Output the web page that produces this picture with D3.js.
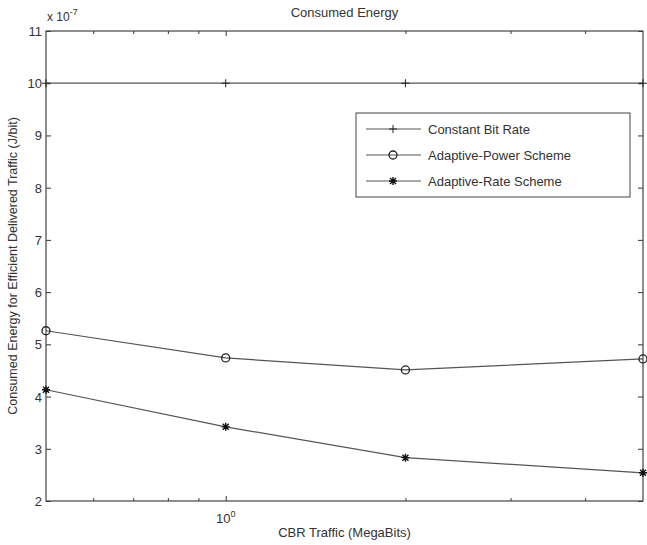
<!DOCTYPE html>
<html lang="en">
<head>
    <meta charset="UTF-8">
    <title>Consumed Energy</title>
    <script src="https://d3js.org/d3.v7.min.js"></script>
    <style>
        body { margin: 0; background: #fff; }
        svg { display: block; font-family: "Liberation Sans", Arial, sans-serif; }
        text { fill: #333; }
    </style>
</head>
<body>
<svg id="chart" width="647" height="545"></svg>
<script>
    // data (y values in units of 1e-7 J/bit)
    const traffic = [0.5, 1, 2, 5];
    const constantBitRate = [10, 10, 10, 10];
    const adaptivePower = [5.26, 4.74, 4.51, 4.72];
    const adaptiveRate = [4.13, 3.42, 2.83, 2.54];
    const seriesNames = ["Constant Bit Rate", "Adaptive-Power Scheme", "Adaptive-Rate Scheme"];
    const yTicks = [2, 3, 4, 5, 6, 7, 8, 9, 10, 11];
    const xMinorTicks = [0.6, 0.7, 0.8, 0.9, 2, 3, 4];

    const margin = { top: 31, right: 4, bottom: 44, left: 46 };
    const width = 647, height = 545;
    const svg = d3.select("#chart");

    const x = d3.scaleLog().domain([0.5, 5]).range([margin.left, width - margin.right]);
    const y = d3.scaleLinear().domain([2, 11]).range([height - margin.bottom, margin.top]);

    const axisColor = "#333";
    const g = svg.append("g");

    // y ticks (inward, both sides)
    g.append("g")
        .attr("transform", `translate(${margin.left},0)`)
        .call(d3.axisRight(y).tickValues(yTicks).tickSize(5).tickFormat(""))
        .call(s => s.select(".domain").remove());
    g.append("g")
        .attr("transform", `translate(${width - margin.right},0)`)
        .call(d3.axisLeft(y).tickValues(yTicks).tickSize(5).tickFormat(""))
        .call(s => s.select(".domain").remove());

    // y labels
    svg.append("g").selectAll("text")
        .data(yTicks)
        .join("text")
        .attr("x", margin.left - 4)
        .attr("y", d => y(d) + 5)
        .attr("text-anchor", "end")
        .style("font-size", "13px")
        .text(d => d);

    // x ticks: major + minor, bottom and top
    const xb = g.append("g").attr("transform", `translate(0,${height - margin.bottom})`);
    const xt = g.append("g").attr("transform", `translate(0,${margin.top})`);
    xb.call(d3.axisTop(x).tickValues([1]).tickSize(5).tickFormat("")).call(s => s.select(".domain").remove());
    xt.call(d3.axisBottom(x).tickValues([1]).tickSize(5).tickFormat("")).call(s => s.select(".domain").remove());
    xb.append("g").call(d3.axisTop(x).tickValues(xMinorTicks).tickSize(3).tickFormat("")).call(s => s.select(".domain").remove());
    xt.append("g").call(d3.axisBottom(x).tickValues(xMinorTicks).tickSize(3).tickFormat("")).call(s => s.select(".domain").remove());
    g.selectAll("line").attr("stroke", axisColor);

    // 10^0 label
    const xl = svg.append("text")
        .attr("x", x(1))
        .attr("y", height - margin.bottom + 22)
        .attr("text-anchor", "middle")
        .style("font-size", "13px");
    xl.append("tspan").text("10");
    xl.append("tspan").attr("dy", -6).style("font-size", "9px").text("0");

    // axes box
    svg.append("rect")
        .attr("x", margin.left)
        .attr("y", margin.top)
        .attr("width", width - margin.right - margin.left)
        .attr("height", height - margin.bottom - margin.top)
        .attr("fill", "none")
        .attr("stroke", "#444")
        .attr("stroke-width", 1.2);

    // exponent label
    const ex = svg.append("text")
        .attr("x", margin.left + 1)
        .attr("y", margin.top - 10)
        .style("font-size", "12px");
    ex.append("tspan").text("x 10");
    ex.append("tspan").attr("dy", -6).style("font-size", "9px").text("-7");

    // title + axis labels
    svg.append("text")
        .attr("x", (margin.left + width - margin.right) / 2)
        .attr("y", 17)
        .attr("text-anchor", "middle")
        .style("font-size", "13px")
        .text("Consumed Energy");
    svg.append("text")
        .attr("x", (margin.left + width - margin.right) / 2)
        .attr("y", 537)
        .attr("text-anchor", "middle")
        .style("font-size", "13px")
        .text("CBR Traffic (MegaBits)");
    svg.append("text")
        .attr("transform", `translate(17,${(margin.top + height - margin.bottom) / 2}) rotate(-90)`)
        .attr("text-anchor", "middle")
        .style("font-size", "12.5px")
        .text("Consumed Energy for Efficient Delivered Traffic (J/bit)");

    // series
    const lineColor = "#555";
    const line = d3.line().x(d => x(d[0])).y(d => y(d[1]));
    const series = [constantBitRate, adaptivePower, adaptiveRate].map((vals, i) => ({
        name: seriesNames[i],
        marker: ["plus", "circle", "star"][i],
        points: traffic.map((t, j) => [t, vals[j]])
    }));

    function drawMarker(sel, type) {
        if (type === "plus") {
            sel.append("path").attr("d", "M-4,0H4M0,-4V4").attr("stroke", "#222").attr("stroke-width", 1).attr("fill", "none");
        } else if (type === "circle") {
            sel.append("circle").attr("r", 4).attr("fill", "none").attr("stroke", "#222").attr("stroke-width", 1.3);
        } else {
            sel.append("path").attr("d", "M-4,0H4M0,-4V4M-3,-3L3,3M-3,3L3,-3").attr("stroke", "#111").attr("stroke-width", 1.4).attr("fill", "none");
        }
    }

    const sg = svg.append("g").selectAll("g").data(series).join("g");
    sg.append("path")
        .attr("d", d => line(d.points))
        .attr("fill", "none")
        .attr("stroke", lineColor)
        .attr("stroke-width", 1.2);
    sg.each(function (d) {
        d3.select(this).selectAll("g.m")
            .data(d.points)
            .join("g")
            .attr("class", "m")
            .attr("transform", p => `translate(${x(p[0])},${y(p[1])})`)
            .each(function () { drawMarker(d3.select(this), d.marker); });
    });

    // legend
    const lg = svg.append("g").attr("transform", "translate(356,113)");
    lg.append("rect").attr("width", 274).attr("height", 84).attr("fill", "#fff").attr("stroke", "#444").attr("stroke-width", 1);
    series.forEach((s, i) => {
        const row = lg.append("g").attr("transform", `translate(0,${16 + i * 26})`);
        row.append("line").attr("x1", 10).attr("x2", 65).attr("stroke", lineColor).attr("stroke-width", 1.2);
        drawMarker(row.append("g").attr("transform", "translate(37,0)"), s.marker);
        row.append("text").attr("x", 72).attr("y", 5).style("font-size", "13px").text(s.name);
    });
</script>
</body>
</html>
